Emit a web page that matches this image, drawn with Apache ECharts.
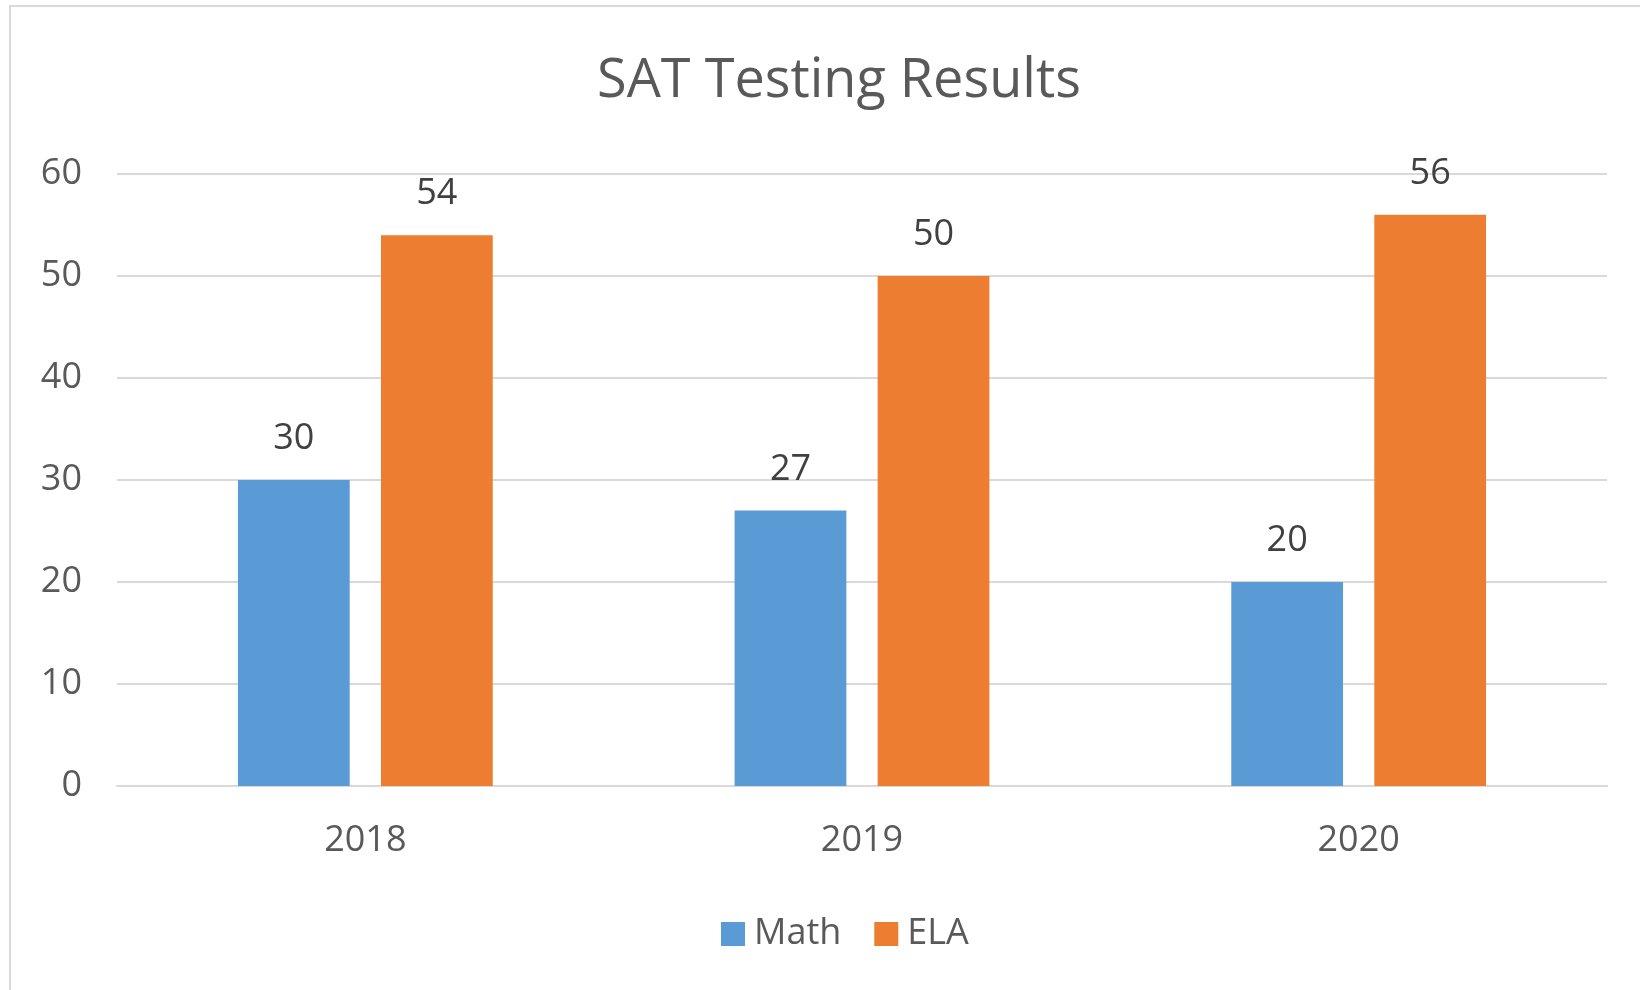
<!DOCTYPE html>
<html>
<head>
<meta charset="utf-8">
<style>
  html, body { margin: 0; padding: 0; background: #fff; }
  #frame { position: absolute; left: 9px; top: 5px; width: 1700px; height: 1100px;
           border-left: 2px solid #d9d9d9; border-top: 2px solid #d9d9d9; }
  #main { position: absolute; left: 0; top: 0; width: 1640px; height: 990px; }
</style>
</head>
<body>
<div id="frame"></div>
<div id="main"></div>
<script src="https://cdn.jsdelivr.net/npm/echarts@6/dist/echarts.min.js"></script>
<script>
  var years = ['2018', '2019', '2020'];
  var mathScores = [30, 27, 20];
  var elaScores = [54, 50, 56];
  var yTicks = { min: 0, max: 60, step: 10 };

  var font = '"Open Sans", "Noto Sans", sans-serif';
  var chart = echarts.init(document.getElementById('main'));

  var option = {
    backgroundColor: 'transparent',
    animation: false,
    title: {
      text: 'SAT Testing Results',
      left: 834,
      textAlign: 'center',
      top: 50,
      textStyle: { fontFamily: font, fontSize: 54, fontWeight: 'normal', color: '#595959' }
    },
    legend: {
      data: ['Math', 'ELA'],
      left: 716,
      bottom: 33,
      icon: 'rect',
      itemWidth: 24,
      itemHeight: 24,
      itemGap: 33,
      textStyle: { fontFamily: font, fontSize: 36, color: '#595959', padding: [0, 0, 0, 4] }
    },
    grid: { left: 117, right: 33, top: 174, bottom: 204 },
    xAxis: {
      type: 'category',
      data: years,
      axisTick: { show: false },
      axisLine: { lineStyle: { color: '#d9d9d9', width: 2 } },
      axisLabel: { fontFamily: font, fontSize: 36, color: '#595959', margin: 37 }
    },
    yAxis: {
      type: 'value',
      min: yTicks.min,
      max: yTicks.max,
      interval: yTicks.step,
      axisLine: { show: false },
      axisTick: { show: false },
      splitLine: { lineStyle: { color: '#d9d9d9', width: 2 } },
      axisLabel: { fontFamily: font, fontSize: 36, color: '#595959', margin: 35, padding: [6, 0, 0, 0] }
    },
    series: [
      {
        name: 'Math',
        type: 'bar',
        data: mathScores,
        barWidth: '22.5%',
        barGap: '28%',
        itemStyle: { color: '#5b9bd5' },
        label: { show: true, position: 'top', distance: 23, fontFamily: font, fontSize: 36, color: '#404040' }
      },
      {
        name: 'ELA',
        type: 'bar',
        data: elaScores,
        barWidth: '22.5%',
        itemStyle: { color: '#ed7d31' },
        label: { show: true, position: 'top', distance: 23, fontFamily: font, fontSize: 36, color: '#404040' }
      }
    ]
  };

  chart.setOption(option);
</script>
</body>
</html>
